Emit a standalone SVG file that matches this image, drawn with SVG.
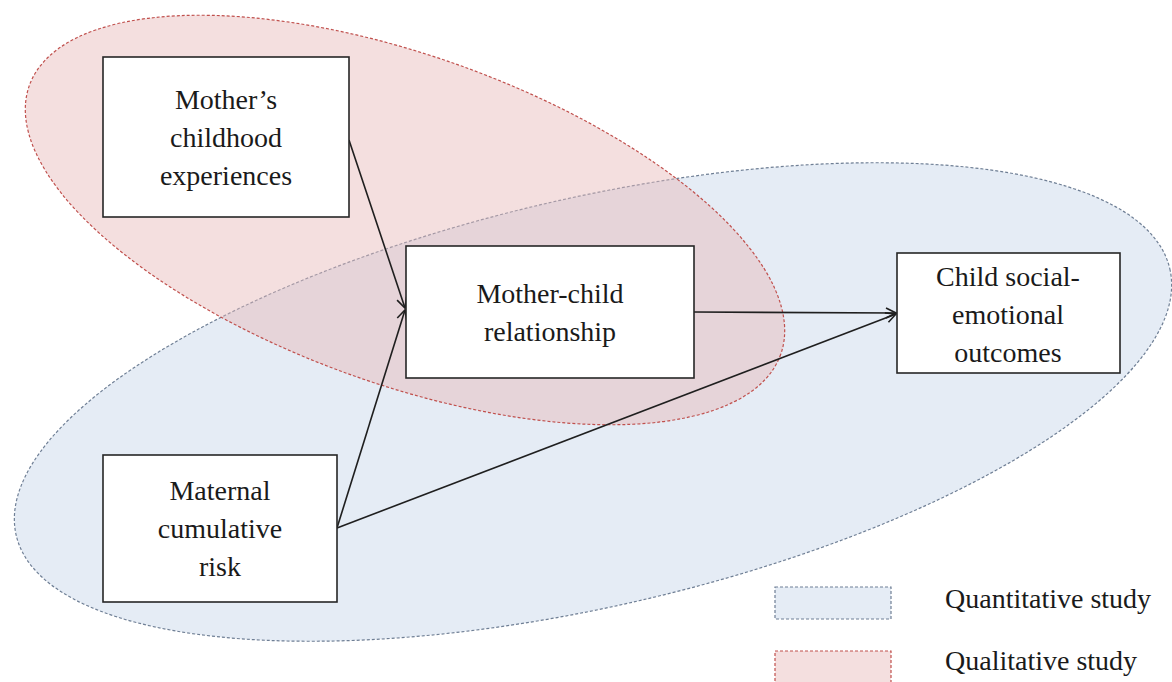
<svg xmlns="http://www.w3.org/2000/svg" width="1172" height="682" viewBox="0 0 1172 682">
  <defs>
    <style>
      .box { fill: #ffffff; stroke: #262626; stroke-width: 1.6; }
      .lbl { font-family: "Liberation Serif", "Times New Roman", serif; font-size: 28px; fill: #1a1a1a; text-anchor: middle; }
      .leg { font-family: "Liberation Serif", "Times New Roman", serif; font-size: 28px; fill: #1a1a1a; }
      .quant { fill: #dce6f2; fill-opacity: 0.75; stroke: #6f7f95; stroke-width: 1.2; stroke-dasharray: 3 2; }
      .qual { fill: #e6b9b8; fill-opacity: 0.45; stroke: #c0504d; stroke-width: 1.2; stroke-dasharray: 3 2; }
      .edge { fill: none; stroke: #1f1f1f; stroke-width: 1.6; marker-end: url(#arrow); }
    </style>
    <marker id="arrow" viewBox="0 0 12 12" refX="11" refY="6" markerWidth="12" markerHeight="12" markerUnits="userSpaceOnUse" orient="auto">
      <path d="M1,1 L11,6 L1,11" fill="none" stroke="#1f1f1f" stroke-width="1.6"/>
    </marker>
  </defs>

  <rect width="1172" height="682" fill="#ffffff"/>

  <!-- study regions -->
  <g id="regions">
    <ellipse class="quant" cx="593" cy="402" rx="592" ry="204" transform="rotate(-13 593 402)"/>
    <ellipse class="qual" cx="405" cy="220" rx="399" ry="164" transform="rotate(19.7 405 220)"/>
  </g>

  <!-- paths between constructs -->
  <g id="connectors">
    <line class="edge" x1="349" y1="140" x2="405" y2="308"/>
    <line class="edge" x1="337" y1="528" x2="405" y2="310"/>
    <line class="edge" x1="694" y1="312" x2="896" y2="313"/>
    <line class="edge" x1="337" y1="528" x2="896" y2="314"/>
  </g>

  <g id="mothers-childhood">
    <rect class="box" x="103" y="57" width="246" height="160"/>
    <text class="lbl" x="226" y="109">Mother’s</text>
    <text class="lbl" x="226" y="147">childhood</text>
    <text class="lbl" x="226" y="185">experiences</text>
  </g>

  <g id="mother-child">
    <rect class="box" x="406" y="246" width="288" height="132"/>
    <text class="lbl" x="550" y="303">Mother-child</text>
    <text class="lbl" x="550" y="341">relationship</text>
  </g>

  <g id="maternal-risk">
    <rect class="box" x="103" y="455" width="234" height="147"/>
    <text class="lbl" x="220" y="500">Maternal</text>
    <text class="lbl" x="220" y="538">cumulative</text>
    <text class="lbl" x="220" y="576">risk</text>
  </g>

  <g id="child-outcomes">
    <rect class="box" x="897" y="253" width="223" height="120"/>
    <text class="lbl" x="1008" y="286">Child social-</text>
    <text class="lbl" x="1008" y="324">emotional</text>
    <text class="lbl" x="1008" y="362">outcomes</text>
  </g>

  <!-- key -->
  <g id="legend">
    <rect class="quant" x="775" y="587" width="116" height="32"/>
    <text class="leg" x="945" y="608">Quantitative study</text>
    <rect class="qual" x="775" y="651" width="116" height="34"/>
    <text class="leg" x="945" y="670">Qualitative study</text>
  </g>
</svg>
